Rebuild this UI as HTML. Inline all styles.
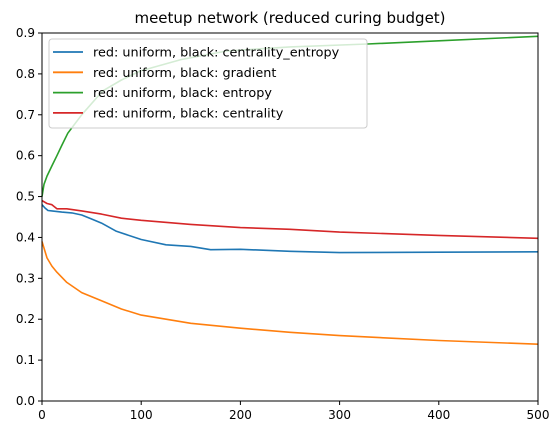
<!DOCTYPE html>
<html><head><meta charset="utf-8"><style>
body{margin:0;background:#fff;}
svg{display:block;font-family:"DejaVu Sans","Liberation Sans",sans-serif;}
</style></head><body>
<svg id="c" width="560" height="435"></svg>
<script>
const xTicks=[0,100,200,300,400,500];
const yTicks=[0.0,0.1,0.2,0.3,0.4,0.5,0.6,0.7,0.8,0.9];
const blueX=[0,3,6,10,20,30,40,50,60,75,100,125,150,170,200,250,300,400,500];
const blueY=[0.48,0.472,0.466,0.465,0.462,0.46,0.455,0.445,0.435,0.415,0.395,0.382,0.378,0.37,0.371,0.366,0.363,0.364,0.365];
const orangeX=[0,5,10,15,25,40,60,80,100,125,150,200,250,300,400,500];
const orangeY=[0.39,0.35,0.33,0.315,0.29,0.265,0.245,0.225,0.21,0.2,0.19,0.178,0.168,0.16,0.148,0.139];
const greenX=[0,2,5,10,15,20,26,40,61,80,99,140,186,250,328,400,500];
const greenY=[0.5,0.53,0.55,0.575,0.6,0.625,0.655,0.7,0.758,0.785,0.807,0.835,0.856,0.866,0.873,0.881,0.892];
const redX=[0,5,10,15,25,40,60,80,100,150,200,250,300,400,500];
const redY=[0.49,0.483,0.48,0.47,0.47,0.465,0.457,0.447,0.442,0.432,0.424,0.42,0.413,0.405,0.398];
const labels=["red: uniform, black: centrality_entropy","red: uniform, black: gradient","red: uniform, black: entropy","red: uniform, black: centrality"];
const colors=["#1f77b4","#ff7f0e","#2ca02c","#d62728"];
const L=42,R=538,T=33,B=401;
const sx=v=>L+(v-0)/(500)*(R-L);
const sy=v=>B-(v/0.9)*(B-T);
const svg=document.getElementById('c');
const NS='http://www.w3.org/2000/svg';
function mk(t,a,p){const e=document.createElementNS(NS,t);for(const k in a)e.setAttribute(k,a[k]);(p||svg).appendChild(e);return e;}
const title=mk('text',{x:290,y:23,'text-anchor':'middle','font-size':15,fill:'#000'});
title.textContent='meetup network (reduced curing budget)';


const series=[[blueX,blueY],[orangeX,orangeY],[greenX,greenY],[redX,redY]];
const names=['line-centrality-entropy','line-gradient','line-entropy','line-centrality'];
series.forEach((s,i)=>{
  const d=s[0].map((x,j)=>(j?'L':'M')+sx(x).toFixed(1)+','+sy(s[1][j]).toFixed(1)).join('');
  const p=mk('path',{d:d,fill:'none',stroke:colors[i],'stroke-width':1.6,'stroke-linejoin':'round'});
  
  
});
mk('rect',{x:L,y:T,width:R-L,height:B-T,fill:'none',stroke:'#000','stroke-width':1});
xTicks.forEach(v=>{
  mk('line',{x1:sx(v),x2:sx(v),y1:B,y2:B+4,stroke:'#000'});
  const t=mk('text',{x:sx(v),y:B+18,'text-anchor':'middle','font-size':12});
  t.textContent=v;
  
  
});
yTicks.forEach(v=>{
  mk('line',{x1:L-4,x2:L,y1:sy(v),y2:sy(v),stroke:'#000'});
  const t=mk('text',{x:L-7,y:sy(v)+4,'text-anchor':'end','font-size':12});
  t.textContent=v.toFixed(1);
  
  
});
const lg=mk('g',{});


mk('rect',{x:49,y:39,width:318,height:89,rx:3,fill:'#fff','fill-opacity':0.8,stroke:'#ccc'},lg);
labels.forEach((s,i)=>{
  const y=52+i*20.3;
  mk('line',{x1:53,x2:83,y1:y,y2:y,stroke:colors[i],'stroke-width':1.8},lg);
  const t=mk('text',{x:93,y:y+4.5,'font-size':12.8},lg);
  t.textContent=s;
  
  
});
</script>
</body></html>
